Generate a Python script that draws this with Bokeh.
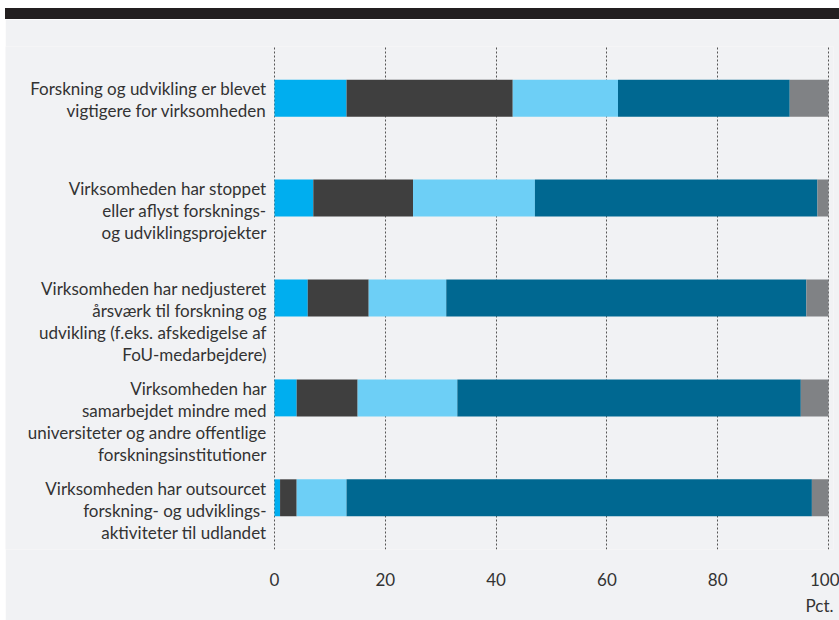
from bokeh.plotting import figure
from bokeh.models import FixedTicker, FactorRange, Range1d, ColumnDataSource, Div, Title
from bokeh.layouts import column
from bokeh.core.properties import value
from bokeh.embed import file_html
from bokeh.resources import INLINE

categories = [
    "Forskning og udvikling er blevet\nvigtigere for virksomheden",
    "Virksomheden har stoppet\neller aflyst forsknings-\nog udviklingsprojekter",
    "Virksomheden har nedjusteret\nårsværk til forskning og\nudvikling (f.eks. afskedigelse af\nFoU-medarbejdere)",
    "Virksomheden har\nsamarbejdet mindre med\nuniversiteter og andre offentlige\nforskningsinstitutioner",
    "Virksomheden har outsourcet\nforskning- og udviklings-\naktiviteter til udlandet",
]
s1 = [13, 7, 6, 4, 1]
s2 = [30, 18, 11, 11, 3]
s3 = [19, 22, 14, 18, 9]
s4 = [31, 51, 65, 62, 84]
s5 = [7, 2, 4, 5, 3]
xticks = [0, 20, 40, 60, 80, 100]
x_unit_label = "Pct."

keys = ["s1", "s2", "s3", "s4", "s5"]
colors = ["#00aeef", "#3f3f3f", "#6dcff6", "#006891", "#808285"]
BG = "#f1f2f4"
TXT = "#333333"
FONT = "Lato"

source = ColumnDataSource(dict(cat=categories, s1=s1, s2=s2, s3=s3, s4=s4, s5=s5,
                               x0=[xticks[0]] * len(categories)))

p = figure(width=834, height=601,
           y_range=FactorRange(factors=list(reversed(categories)), range_padding=0.0175,
                               range_padding_units="absolute"),
           x_range=Range1d(-48.56, 100.9),
           output_backend="svg", toolbar_location=None, y_axis_location=None,
           min_border_left=0, min_border_right=6, min_border_top=27, min_border_bottom=71)
p.background_fill_color = BG
p.border_fill_color = BG
p.outline_line_color = None

p.hbar_stack(keys, y="cat", height=0.37, color=colors, line_color=None, source=source)

p.text(x="x0", y="cat", text="cat", source=source, x_offset=-8, y_offset=-20,
       text_align="right", text_baseline="top", text_font=value(FONT),
       text_font_size="17px", text_color=TXT, text_line_height=1.05)

ax = p.xaxis[0]
ax.ticker = FixedTicker(ticks=xticks)
ax.axis_line_color = None
ax.major_tick_line_color = None
ax.minor_tick_line_color = None
ax.major_label_standoff = 17
ax.major_label_text_font = FONT
ax.major_label_text_font_size = "17px"
ax.major_label_text_color = TXT

p.add_layout(Title(text=x_unit_label, align="right", text_font=FONT,
                   text_font_size="17px", text_font_style="normal",
                   text_color=TXT, standoff=8), "below")

p.xgrid.ticker = FixedTicker(ticks=xticks)
p.xgrid.grid_line_color = "#555555"
p.xgrid.grid_line_dash = "2 2"
p.xgrid.grid_line_width = 1
p.ygrid.visible = False

strip = Div(text="", width=834, height=11, margin=0,
            styles={"background-color": "#231f20"})
layout = column(strip, p, spacing=0, margin=(8, 0, 0, 5))

open("out.html", "w").write(file_html(layout, INLINE))
